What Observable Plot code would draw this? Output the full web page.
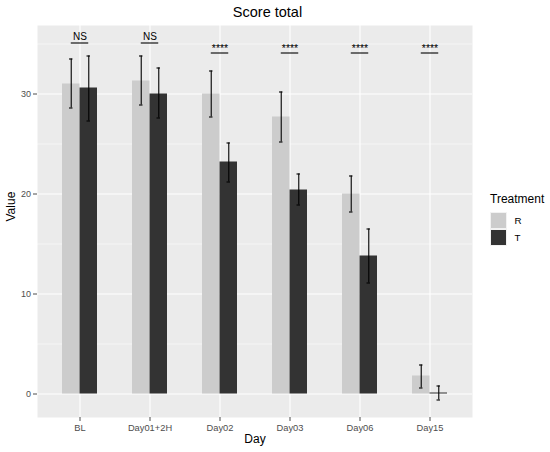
<!DOCTYPE html>
<html>
<head>
<meta charset="utf-8">
<script src="https://cdn.jsdelivr.net/npm/d3@7"></script>
<script src="https://cdn.jsdelivr.net/npm/@observablehq/plot@0.6"></script>
<style>
  body { margin: 0; background: #fff; }
  #wrap { position: relative; width: 550px; height: 452px; font-family: "Liberation Sans", Arial, sans-serif; }
  #legend { position: absolute; left: 490px; top: 191.5px; }
  #legend .ttl { font-size: 12px; line-height: 14px; color: #000; }
  #legend .rows { margin-top: 6px; }
  #legend .row { display: flex; align-items: center; height: 17.4px; }
  #legend .sw { width: 17.4px; height: 17.4px; box-sizing: border-box; border: 1px solid #F2F2F2; }
  #legend .lab { font-size: 9.8px; margin-left: 7px; color: #000; }
</style>
</head>
<body>
<div id="wrap"></div>
<script>
// ---- data ----
const days = ["BL", "Day01+2H", "Day02", "Day03", "Day06", "Day15"];
const treatments = ["R", "T"];
const treatmentColors = ["#CCCCCC", "#333333"];
const rMean = [31.0, 31.3, 30.0, 27.7, 20.0, 1.8];
const rLo   = [28.6, 28.9, 27.7, 25.2, 18.2, 0.6];
const rHi   = [33.5, 33.8, 32.3, 30.2, 21.8, 2.9];
const tMean = [30.6, 30.0, 23.2, 20.4, 13.8, 0.1];
const tLo   = [27.3, 27.6, 21.2, 18.9, 11.1, -0.6];
const tHi   = [33.8, 32.6, 25.1, 22.0, 16.5, 0.8];
const sigLabels = ["NS", "NS", "****", "****", "****", "****"];
const sigY = [35.1, 35.1, 34.1, 34.1, 34.1, 34.1];
const yTicks = [0, 10, 20, 30];
const yMinor = [5, 15, 25, 35];

const rows = days.flatMap((d, i) => [
  {day: d, treatment: "R", value: rMean[i], lo: rLo[i], hi: rHi[i]},
  {day: d, treatment: "T", value: tMean[i], lo: tLo[i], hi: tHi[i]}
]);
const R = rows.filter(d => d.treatment === "R");
const T = rows.filter(d => d.treatment === "T");
const sig = days.map((d, i) => ({day: d, label: sigLabels[i], y: sigY[i]}));

// ---- layout ----
const W = 550, H = 452;
const mL = 37, mR = 78, mT = 25, mB = 35;
const xCfg = {type: "band", domain: days, paddingInner: 0.5, paddingOuter: 0.35};
const bw = d3.scaleBand().domain(days).range([mL, W - mR])
  .paddingInner(xCfg.paddingInner).paddingOuter(xCfg.paddingOuter).bandwidth();
const half = bw / 2, q = bw / 4, cap = 3.6;

const font = "Liberation Sans, Arial, sans-serif";

const errMarks = (data, sgn) => [
  Plot.ruleX(data, {x: "day", y1: "lo", y2: "hi", dx: sgn * q, stroke: "#000", strokeWidth: 1.1}),
  Plot.tickY(data, {x: "day", y: "lo", dx: sgn * q, insetLeft: half - cap / 2, insetRight: half - cap / 2, stroke: "#000", strokeWidth: 1.1}),
  Plot.tickY(data, {x: "day", y: "hi", dx: sgn * q, insetLeft: half - cap / 2, insetRight: half - cap / 2, stroke: "#000", strokeWidth: 1.1})
];

const chart = Plot.plot({
  width: W, height: H,
  marginLeft: mL, marginRight: mR, marginTop: mT, marginBottom: mB,
  style: {fontFamily: font, background: "transparent", overflow: "visible"},
  x: {...xCfg, label: null, axis: null},
  y: {domain: [-2.35, 36.85], label: null, axis: null},
  color: {domain: treatments, range: treatmentColors},
  marks: [
    Plot.frame({fill: "#EBEBEB", stroke: "none"}),
    Plot.gridY(yMinor, {stroke: "#fff", strokeOpacity: 1, strokeWidth: 0.55}),
    Plot.gridY(yTicks, {stroke: "#fff", strokeOpacity: 1, strokeWidth: 1.1}),
    Plot.gridX({stroke: "#fff", strokeOpacity: 1, strokeWidth: 1.1}),
    Plot.barY(R, {x: "day", y: "value", fill: "treatment", insetRight: half}),
    Plot.barY(T, {x: "day", y: "value", fill: "treatment", insetLeft: half}),
    ...errMarks(R, -1),
    ...errMarks(T, 1),
    Plot.tickY(sig, {x: "day", y: "y", insetLeft: q, insetRight: q, stroke: "#000", strokeWidth: 1.1}),
    Plot.text(sig.filter(d => d.label === "NS"), {x: "day", y: "y", text: "label", lineAnchor: "bottom", dy: -3, fontSize: 10, fill: "#000"}),
    Plot.text(sig.filter(d => d.label !== "NS"), {x: "day", y: "y", text: "label", lineAnchor: "bottom", dy: -1.5, fontSize: 10.5, fill: "#000"}),
    Plot.axisX({tickSize: 4, tickPadding: 3, fontSize: 9.3, color: "#4D4D4D", label: null}),
    Plot.axisY(yTicks, {tickSize: 4, tickPadding: 2.5, fontSize: 9, color: "#4D4D4D", label: null}),
    Plot.text(["Day"], {frameAnchor: "bottom", text: d => d, dy: 25, lineAnchor: "bottom", fontSize: 12, fill: "#000"}),
    Plot.text(["Value"], {frameAnchor: "left", text: d => d, dx: -26, rotate: -90, lineAnchor: "middle", fontSize: 12, fill: "#000"}),
    Plot.text(["Score total"], {frameAnchor: "top", text: d => d, dy: -8.5, dx: 12.5, lineAnchor: "bottom", fontSize: 14.5, fill: "#000"})
  ]
});

const wrap = document.getElementById("wrap");
wrap.appendChild(chart);

// legend
const leg = document.createElement("div");
leg.id = "legend";
leg.innerHTML = `<div class="ttl">Treatment</div><div class="rows">` +
  treatments.map((t, i) => `<div class="row"><div class="sw" style="background:${treatmentColors[i]}"></div><div class="lab">${t}</div></div>`).join("") +
  `</div>`;
wrap.appendChild(leg);
</script>
</body>
</html>
